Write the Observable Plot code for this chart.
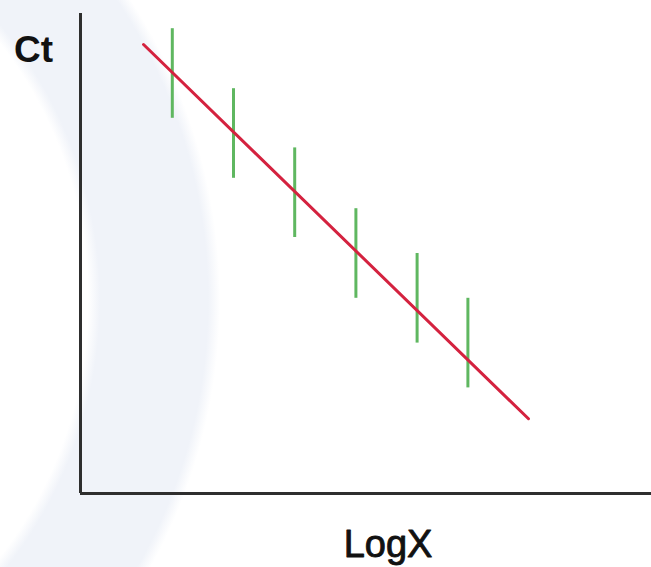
<!DOCTYPE html>
<html>
<head>
<meta charset="utf-8">
<script src="https://cdn.jsdelivr.net/npm/d3@7"></script>
<script src="https://cdn.jsdelivr.net/npm/@observablehq/plot@0.6"></script>
<style>
  html, body { margin: 0; padding: 0; background: #ffffff; }
  #chart {
    width: 651px; height: 567px; overflow: hidden;
    background: radial-gradient(circle at -330px 300px, rgba(255,255,255,0) 418px, #f0f3f9 430px, #f0f3f9 538px, rgba(255,255,255,0) 550px);
  }
</style>
</head>
<body>
<div id="chart"></div>
<script>
// Standard-curve data
const logX   = [1, 2, 3, 4, 5, 5.83];
const ctMean = [36.25, 32.5, 28.8, 25.0, 22.2, 19.4];
const ctErr  = [2.8, 2.8, 2.8, 2.8, 2.8, 2.8];

// Fitted regression line endpoints
const fitX  = [0.53, 6.82];
const fitCt = [38.06, 14.67];

// Axis extents and labels
const xDomain = [-0.5, 8.83];
const yDomain = [10, 40];
const xLabel = "LogX";
const yLabel = "Ct";

const points = logX.map((x, i) => ({x, ct: ctMean[i], err: ctErr[i]}));
const fit = fitX.map((x, i) => ({x, ct: fitCt[i]}));

const chart = Plot.plot({
  width: 651,
  height: 567,
  marginLeft: 80,
  marginRight: 0,
  marginTop: 13,
  marginBottom: 74,
  style: {background: "transparent", overflow: "visible"},
  x: {domain: xDomain, axis: null},
  y: {domain: yDomain, axis: null},
  marks: [
    Plot.ruleX([xDomain[0]], {y1: yDomain[0], y2: yDomain[1], stroke: "#2e2e2e", strokeWidth: 3}),
    Plot.ruleY([yDomain[0]], {x1: xDomain[0], x2: xDomain[1], stroke: "#2e2e2e", strokeWidth: 3}),
    Plot.ruleX(points, {x: "x", y1: d => d.ct - d.err, y2: d => d.ct + d.err, stroke: "#5fb760", strokeWidth: 3}),
    Plot.line(fit, {x: "x", y: "ct", stroke: "#d4223f", strokeWidth: 3}),
    Plot.text([yLabel], {frameAnchor: "top-left", text: d => d, dx: -47, dy: 37, fontSize: 37, fontWeight: "bold", fill: "#111", fontFamily: "Liberation Sans, Arial, sans-serif", textAnchor: "middle", lineAnchor: "middle"}),
    Plot.text([xLabel], {frameAnchor: "bottom", text: d => d, dx: 22, dy: 51, fontSize: 38, fontWeight: "normal", fill: "#111", stroke: "#111", strokeWidth: 0.9, fontFamily: "Liberation Sans, Arial, sans-serif", textAnchor: "middle", lineAnchor: "middle"})
  ]
});
document.getElementById("chart").appendChild(chart);
</script>
</body>
</html>
